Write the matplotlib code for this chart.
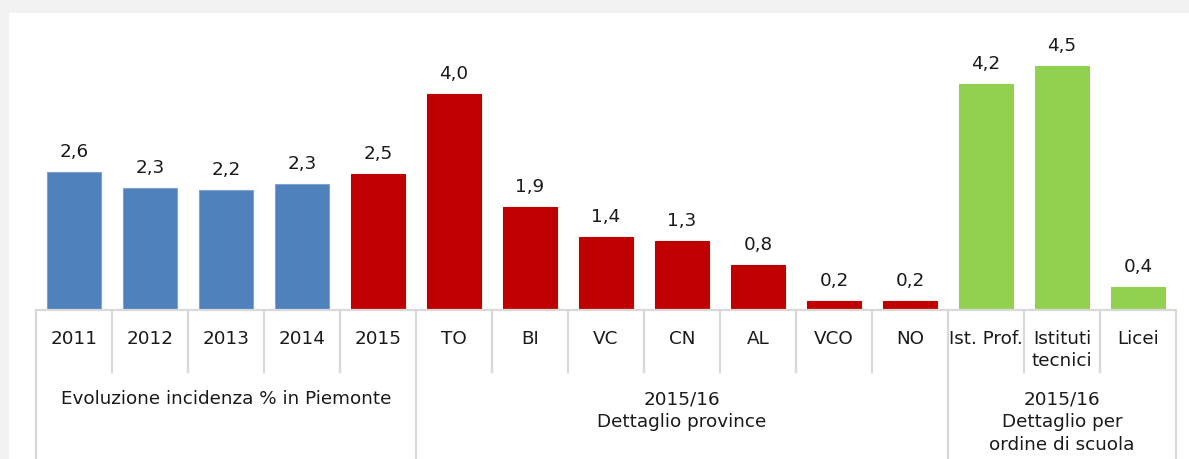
import matplotlib
matplotlib.use("Agg")
import matplotlib.pyplot as plt
from matplotlib.patches import Rectangle

# ---- data ----
categories = ["2011", "2012", "2013", "2014", "2015",
              "TO", "BI", "VC", "CN", "AL", "VCO", "NO",
              "Ist. Prof.", "Istituti\ntecnici", "Licei"]
values = [2.56, 2.26, 2.22, 2.33, 2.52,
          4.00, 1.91, 1.36, 1.27, 0.83, 0.17, 0.16,
          4.19, 4.51, 0.43]
group_labels = ["Evoluzione incidenza % in Piemonte",
                "2015/16\nDettaglio province",
                "2015/16\nDettaglio per\nordine di scuola"]
group_sizes = [5, 7, 3]
bar_colors = ["#4f81bd"] * 4 + ["#c00000"] * 8 + ["#92d050"] * 3

# ---- layout (pixels) ----
W, H = 1189, 459
BASE = 310          # baseline y in pixels from top
AX_H = 270          # axes height in pixels
FONT = "DejaVu Sans"
FS = 13.2
SEP = "#d9d9d9"
TXT = "#1a1a1a"

plt.rcParams['font.family'] = [FONT]

fig = plt.figure(figsize=(W / 100, H / 100), dpi=100, facecolor="#f2f2f2")
fig.patches.append(Rectangle((9 / W, 0), (W - 9) / W, (H - 13) / H,
                             transform=fig.transFigure, facecolor="white",
                             edgecolor="none", zorder=-10))

ax = fig.add_axes([36 / W, (H - BASE) / H, 1140 / W, AX_H / H])
ax.set_xlim(-0.5, len(categories) - 0.5)
ax.set_ylim(0, 5)
ax.axis("off")

x = list(range(len(categories)))
edge = ["#7fa2cf" if c == "#4f81bd" else c for c in bar_colors]
ax.bar(x, values, width=0.72, color=bar_colors, edgecolor=edge, linewidth=0.8, zorder=2)

for xi, v in zip(x, values):
    ax.annotate(f"{v:.1f}".replace(".", ","), (xi, v), xytext=(0, 20),
                textcoords="offset pixels", ha="center", va="center",
                fontsize=FS, color=TXT)


def yf(py):
    return (BASE - py) / AX_H


tr = ax.get_xaxis_transform()
ax.plot([-0.5, len(categories) - 0.5], [0, 0], transform=tr, color=SEP,
        lw=1.6, clip_on=False, zorder=3)

bounds = [0]
for s in group_sizes:
    bounds.append(bounds[-1] + s)

for i in range(len(categories) + 1):
    xb = i - 0.5
    bottom = yf(H + 5) if i in bounds else yf(372)
    ax.plot([xb, xb], [0, bottom], transform=tr, color=SEP, lw=1.6,
            clip_on=False, zorder=3)

for xi, lab in zip(x, categories):
    ax.text(xi, yf(330), lab, transform=tr, ha="center", va="top",
            fontsize=FS, color=TXT, linespacing=1.3)

for g, lab in enumerate(group_labels):
    cx = (bounds[g] + bounds[g + 1] - 1) / 2
    ax.text(cx, yf(390), lab, transform=tr, ha="center", va="top",
            fontsize=FS, color=TXT, linespacing=1.35)

fig.savefig("out.png", dpi=100, facecolor=fig.get_facecolor())
